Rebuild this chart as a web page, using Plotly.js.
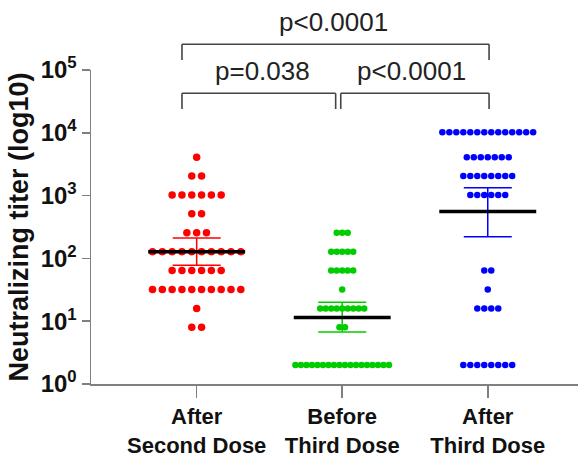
<!DOCTYPE html>
<html>
<head>
<meta charset="utf-8">
<script src="https://cdn.plot.ly/plotly-3.0.1.min.js"></script>
<style>html,body{margin:0;padding:0;background:#fff;}#chart{width:581px;height:458px;}</style>
</head>
<body>
<div id="chart"></div>
<script>
// ---- data ----
const categories = ["After<br>Second Dose", "Before<br>Third Dose", "After<br>Third Dose"];

// titer levels and how many subjects sit on each level
const secondDoseLevels = [4096, 2048, 1024, 512, 256, 128, 64, 32, 16, 8];
const secondDoseCounts = [1, 2, 6, 2, 3, 10, 6, 10, 1, 2];

const beforeThirdLevels = [256, 128, 64, 32, 16, 8, 2];
const beforeThirdCounts = [3, 5, 5, 1, 9, 2, 18];

const afterThirdLevels = [10240, 4096, 2048, 1024, 64, 32, 16, 2];
const afterThirdCounts = [14, 7, 8, 6, 2, 1, 4, 8];

// geometric mean with 95% CI
const geoMean = [128, 11.5, 560];
const ciLow  = [78, 6.7, 222];
const ciHigh = [211, 20, 1336];

const pLabels = ["p<0.0001", "p=0.038", "p<0.0001"];
const yTickVals = [1, 10, 100, 1000, 10000, 100000];
const yTickText = ["10<sup>0</sup>", "10<sup>1</sup>", "10<sup>2</sup>", "10<sup>3</sup>", "10<sup>4</sup>", "10<sup>5</sup>"];

// ---- styling ----
const colors = ["#ff0000", "#00cc00", "#0000ff"];
const spacing = [0.0674, 0.0378, 0.048];
const msize = [7.5, 6.5, 6.5];
const groups = [
  [secondDoseLevels, secondDoseCounts],
  [beforeThirdLevels, beforeThirdCounts],
  [afterThirdLevels, afterThirdCounts]
];

const traces = [];
groups.forEach((g, gi) => {
  const xs = [], ys = [];
  g[0].forEach((lvl, li) => {
    const n = g[1][li];
    for (let i = 0; i < n; i++) {
      xs.push(gi + (i - (n - 1) / 2) * spacing[gi]);
      ys.push(lvl);
    }
  });
  traces.push({
    type: "scatter", mode: "markers", x: xs, y: ys,
    marker: {color: colors[gi], size: msize[gi], line: {width: 0}},
    hoverinfo: "y", showlegend: false
  });
});
// error bars (95% CI)
groups.forEach((g, gi) => {
  traces.push({
    type: "scatter", mode: "lines", x: [gi], y: [geoMean[gi]],
    line: {color: colors[gi], width: 0},
    error_y: {type: "data", symmetric: false,
      array: [ciHigh[gi] - geoMean[gi]], arrayminus: [geoMean[gi] - ciLow[gi]],
      color: colors[gi], thickness: 1.5, width: 24},
    showlegend: false, hoverinfo: "skip"
  });
});
// geometric mean lines
const halfW = 0.333;
groups.forEach((g, gi) => {
  traces.push({
    type: "scatter", mode: "lines", x: [gi - halfW, gi + halfW], y: [geoMean[gi], geoMean[gi]],
    line: {color: "#000000", width: 3.5}, showlegend: false, hoverinfo: "skip"
  });
});

// brackets (paper y, data x)
const bc = "#444444";
const bw = 1.6;
function seg(x0, y0, x1, y1) {
  return {type: "line", xref: "x", yref: "paper", x0: x0, y0: y0, x1: x1, y1: y1,
          line: {color: bc, width: bw}, layer: "above"};
}
const topY = 1.0818, topEnd = 1.0318, lowY = 0.9258, lowEnd = 0.8758;
const shapes = [
  seg(-0.101, topY, 2.009, topY), seg(-0.101, topY, -0.101, topEnd), seg(2.009, topY, 2.009, topEnd),
  seg(-0.101, lowY, 0.955, lowY), seg(-0.101, lowY, -0.101, lowEnd), seg(0.955, lowY, 0.955, lowEnd),
  seg(0.990, lowY, 2.009, lowY), seg(0.990, lowY, 0.990, lowEnd), seg(2.009, lowY, 2.009, lowEnd)
];
const annFont = {family: "Liberation Sans, Arial, sans-serif", size: 26, color: "#222"};
const annotations = [
  {x: 0.937, y: 1.1529, text: pLabels[0]},
  {x: 0.449, y: 0.9968, text: pLabels[1]},
  {x: 1.473, y: 0.9968, text: pLabels[2]}
].map(a => Object.assign({xref: "x", yref: "paper", showarrow: false, xanchor: "center", yanchor: "middle", font: annFont}, a));

const layout = {
  width: 581, height: 458,
  margin: {l: 91, r: 3, t: 70, b: 74},
  paper_bgcolor: "#fff", plot_bgcolor: "#fff",
  showlegend: false,
  xaxis: {
    range: [-0.726, 2.62], tickvals: [0, 1, 2], ticktext: categories,
    showgrid: false, zeroline: false, showline: true, linecolor: "#808080", linewidth: 1.5,
    ticks: "outside", ticklen: 12, tickwidth: 1.5, tickcolor: "#808080",
    tickfont: {family: "Liberation Sans, Arial, sans-serif", size: 22, weight: "bold", color: "#111"}
  },
  yaxis: {
    type: "log", range: [0, 5], tickvals: yTickVals, ticktext: yTickText,
    showgrid: false, zeroline: false, showline: true, linecolor: "#808080", linewidth: 1.5,
    ticks: "outside", ticklen: 8, tickwidth: 1.5, tickcolor: "#808080",
    tickfont: {family: "Liberation Sans, Arial, sans-serif", size: 24, weight: "bold", color: "#111"},
    title: {text: "Neutralizing titer (log10)", standoff: 4,
            font: {family: "Liberation Sans, Arial, sans-serif", size: 27, weight: "bold", color: "#111"}}
  },
  shapes: shapes,
  annotations: annotations
};

Plotly.newPlot("chart", traces, layout, {displayModeBar: false, staticPlot: true});
</script>
</body>
</html>
